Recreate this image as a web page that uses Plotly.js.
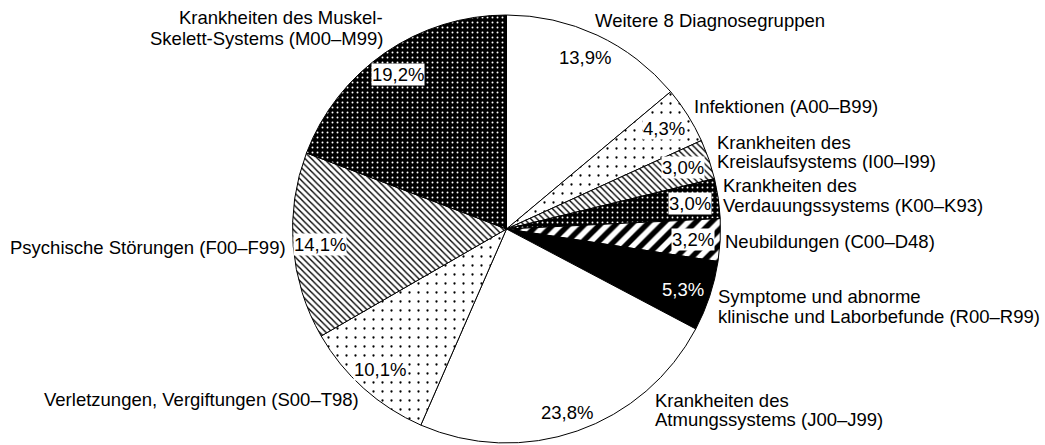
<!DOCTYPE html>
<html>
<head>
<meta charset="utf-8">
<script src="https://cdn.plot.ly/plotly-3.0.1.min.js"></script>
<style>html,body{margin:0;padding:0;background:#fff;}#chart{width:1045px;height:445px;}</style>
</head>
<body>
<div id="chart"></div>
<script>
// Data (clockwise from 12 o'clock)
const categories = [
  "Weitere 8 Diagnosegruppen",
  "Infektionen (A00–B99)",
  "Krankheiten des Kreislaufsystems (I00–I99)",
  "Krankheiten des Verdauungssystems (K00–K93)",
  "Neubildungen (C00–D48)",
  "Symptome und abnorme klinische und Laborbefunde (R00–R99)",
  "Krankheiten des Atmungssystems (J00–J99)",
  "Verletzungen, Vergiftungen (S00–T98)",
  "Psychische Störungen (F00–F99)",
  "Krankheiten des Muskel-Skelett-Systems (M00–M99)"
];
const values = [13.9, 4.3, 3.0, 3.0, 3.2, 5.3, 23.8, 10.1, 14.1, 19.2];
const labelLines = [
  ["Weitere 8 Diagnosegruppen"],
  ["Infektionen (A00–B99)"],
  ["Krankheiten des", "Kreislaufsystems (I00–I99)"],
  ["Krankheiten des", "Verdauungssystems (K00–K93)"],
  ["Neubildungen (C00–D48)"],
  ["Symptome und abnorme", "klinische und Laborbefunde (R00–R99)"],
  ["Krankheiten des", "Atmungssystems (J00–J99)"],
  ["Verletzungen, Vergiftungen (S00–T98)"],
  ["Psychische Störungen (F00–F99)"],
  ["Krankheiten des Muskel-", "Skelett-Systems (M00–M99)"]
];

// Styles
const bgColors = ["#ffffff","#ffffff","#ffffff","#000000","#ffffff","#000000","#ffffff","#ffffff","#ffffff","#000000"];
const fgColors = ["#000000","#000000","#000000","#ffffff","#000000","#ffffff","#000000","#000000","#000000","#ffffff"];
const shapes   = ["", ".", "\\", ".", "/", "", "", ".", "\\", "."];
const psizes   = [8, 9, 4.5, 5, 11, 8, 8, 9, 4.5, 5];
const solid    = [0.3, 0.05, 0.3, 0.12, 0.5, 0.3, 0.3, 0.05, 0.3, 0.12];

// layout positions (pixels)
const W = 1045, H = 445;
const px = x => x / W, py = y => 1 - y / H;
// [x, y-centres of lines, anchor]
const labelPos = [
  [593, [20], "left"],
  [692, [106], "left"],
  [715, [142, 162], "left"],
  [721, [185, 205], "left"],
  [723, [241], "left"],
  [716, [296, 316], "left"],
  [653, [400, 419], "left"],
  [361, [399], "right"],
  [288, [247], "right"],
  [385, [17, 38], "right"]
];
const pctPos = [
  [585, 57], [664, 128], [683, 167], [690, 203], [693, 239],
  [683, 289], [567, 412], [380, 369], [320, 244], [398, 74]
];
const pctBox = [false, true, true, true, true, false, false, true, true, true];

const FONT = "Liberation Sans, Arial, sans-serif";
const FS = 18.5;
const annotations = [];
labelLines.forEach((lines, i) => {
  const [x, ys, anchor] = labelPos[i];
  lines.forEach((t, j) => {
    annotations.push({
      xref: "paper", yref: "paper", x: px(x), y: py(ys[j]),
      xanchor: anchor, yanchor: "middle", showarrow: false,
      text: t, font: {family: FONT, size: FS, color: "#000"}
    });
  });
});
values.forEach((v, i) => {
  const [x, y] = pctPos[i];
  annotations.push({
    xref: "paper", yref: "paper", x: px(x), y: py(y),
    xanchor: "center", yanchor: "middle", showarrow: false,
    text: v.toFixed(1).replace(".", ",") + "%",
    font: {family: FONT, size: FS, color: bgColors[i] === "#000000" && !pctBox[i] ? "#fff" : "#000"},
    bgcolor: pctBox[i] ? "#ffffff" : "rgba(0,0,0,0)",
    borderpad: 0
  });
});

const trace = {
  type: "pie",
  labels: categories,
  values: values,
  sort: false,
  direction: "clockwise",
  rotation: 0,
  textinfo: "none",
  hoverinfo: "skip",
  showlegend: false,
  domain: {x: [292.5 / W, 720.5 / W], y: [py(443), py(15)]},
  marker: {
    colors: bgColors,
    line: {color: "#000", width: 1},
    pattern: {shape: shapes, fgcolor: fgColors, bgcolor: bgColors, size: psizes, solidity: solid, fillmode: "replace"}
  }
};

const layout = {
  width: W, height: H,
  margin: {l: 0, r: 0, t: 0, b: 0},
  paper_bgcolor: "#fff",
  plot_bgcolor: "#fff",
  font: {family: FONT, size: FS, color: "#000"},
  annotations: annotations,
  showlegend: false
};

Plotly.newPlot("chart", [trace], layout, {displayModeBar: false, staticPlot: true});
</script>
</body>
</html>
